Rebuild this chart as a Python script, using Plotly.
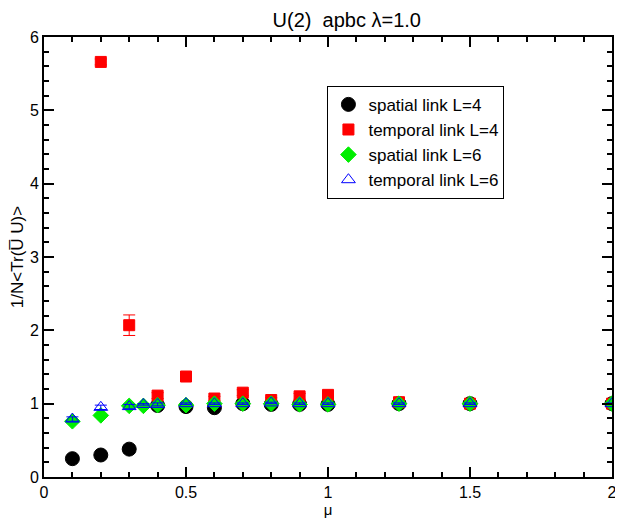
import plotly.graph_objects as go

# axis limits
x_lim = [0, 2]
y_lim = [0, 6]

# spatial link L=4
mu_s4 = [0.1, 0.2, 0.3, 0.4, 0.5, 0.6, 0.7, 0.8, 0.9, 1.0, 1.25, 1.5, 2.0]
val_s4 = [0.25, 0.30, 0.38, 0.975, 0.96, 0.945, 1.0, 0.99, 0.99, 0.99, 1.0, 1.0, 1.0]
err_s4 = [0.01, 0.01, 0.05, 0.02, 0.02, 0.02, 0.01, 0.01, 0.01, 0.01, 0.01, 0.01, 0.01]

# temporal link L=4
mu_t4 = [0.2, 0.3, 0.4, 0.5, 0.6, 0.7, 0.8, 0.9, 1.0, 1.25, 1.5, 2.0]
val_t4 = [5.66, 2.07, 1.11, 1.37, 1.07, 1.15, 1.05, 1.10, 1.12, 1.02, 1.0, 1.0]
err_t4 = [0.04, 0.14, 0.04, 0.05, 0.03, 0.04, 0.03, 0.04, 0.03, 0.02, 0.02, 0.02]

# spatial link L=6
mu_s6 = [0.1, 0.2, 0.3, 0.35, 0.4, 0.5, 0.6, 0.7, 0.8, 0.9, 1.0, 1.25, 1.5, 2.0]
val_s6 = [0.76, 0.84, 0.97, 0.97, 0.98, 0.98, 1.0, 1.0, 1.0, 0.99, 0.99, 1.0, 1.0, 1.0]
err_s6 = [0.02, 0.02, 0.01, 0.01, 0.01, 0.01, 0.01, 0.01, 0.01, 0.01, 0.01, 0.01, 0.01, 0.01]

# temporal link L=6
mu_t6 = [0.1, 0.2, 0.3, 0.35, 0.4, 0.5, 0.6, 0.7, 0.8, 0.9, 1.0, 1.25, 1.5, 2.0]
val_t6 = [0.79, 0.95, 0.96, 0.99, 0.99, 1.0, 1.0, 1.0, 1.01, 1.0, 1.0, 1.0, 1.0, 1.0]
err_t6 = [0.03, 0.03, 0.03, 0.01, 0.02, 0.01, 0.01, 0.01, 0.01, 0.01, 0.01, 0.01, 0.01, 0.01]

fig = go.Figure()
series = [
    (mu_s4, val_s4, err_s4, "spatial link L=4", "circle", "black", 14),
    (mu_t4, val_t4, err_t4, "temporal link L=4", "square", "red", 11),
    (mu_s6, val_s6, err_s6, "spatial link L=6", "diamond", "#00ee00", 12),
    (mu_t6, val_t6, err_t6, "temporal link L=6", "triangle-up-open", "blue", 12),
]
for x, y, e, name, sym, col, sz in series:
    fig.add_trace(go.Scatter(
        x=x, y=y, name=name, mode="markers",
        marker=dict(symbol=sym, color=col, size=sz, line=dict(color=col, width=1)),
        error_y=dict(type="data", array=e, color=col, thickness=1, width=6),
    ))

axis_style = dict(
    showline=True, linecolor="black", linewidth=2, mirror="allticks",
    ticks="inside", ticklen=10, tickwidth=1.5, tickcolor="black",
    showgrid=False, zeroline=False,
    tickfont=dict(size=16, color="black"),
)

# page body has an 8px margin, so the figure is sized a bit smaller
fig.update_layout(
    width=615, height=512,
    margin=dict(l=34, r=6, t=29, b=40),
    plot_bgcolor="white", paper_bgcolor="white",
    font=dict(family="Liberation Sans, Arial, sans-serif", color="black"),
    title=dict(text="U(2)\u00a0\u00a0apbc λ=1.0", x=0.533, xanchor="center", xref="paper",
               y=0.99, yanchor="top", font=dict(size=20, color="black")),
    legend=dict(x=0.499, y=0.889, xanchor="left", yanchor="top",
                bordercolor="black", borderwidth=1, bgcolor="white",
                font=dict(size=17, color="black"), tracegroupgap=0),
)
fig.update_xaxes(range=x_lim, dtick=0.5,
                 minor=dict(dtick=0.1, ticks="inside", ticklen=5, tickwidth=1.5, tickcolor="black"),
                 title=dict(text="μ", font=dict(size=15, color="black"), standoff=2),
                 **axis_style)
fig.update_yaxes(range=y_lim, dtick=1,
                 minor=dict(dtick=0.2, ticks="inside", ticklen=5, tickwidth=1.5, tickcolor="black"),
                 title=dict(text="1/N<Tr(U\u0305 U)>", font=dict(size=17, color="black"), standoff=4),
                 **axis_style)

fig.write_html("out.html")
